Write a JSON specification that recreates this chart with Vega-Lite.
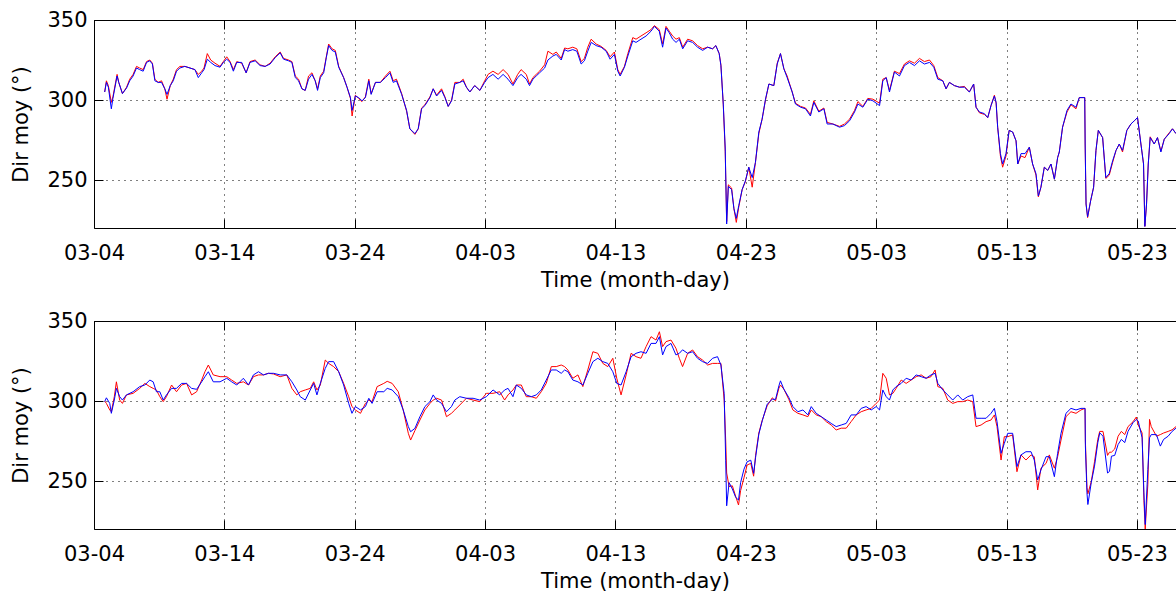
{
  "$schema": "https://vega.github.io/schema/vega-lite/v6.json",
  "padding": {"left": 10, "top": 9, "right": 0, "bottom": 0},
  "autosize": {"type": "pad"},
  "spacing": 20,
  "config": {
    "font": "DejaVu Sans",
    "view": {"stroke": null},
    "axis": {
      "labelFont": "DejaVu Sans", "labelFontSize": 21, "labelColor": "#000000",
      "titleFont": "DejaVu Sans", "titleFontSize": 21, "titleFontWeight": "normal", "titleColor": "#000000",
      "domain": true, "domainColor": "#000000", "domainWidth": 1,
      "tickColor": "#000000", "tickSize": -9, "tickWidth": 1,
      "gridColor": "#000000", "gridDash": [1, 5], "gridWidth": 1, "gridOpacity": 1
    },
    "line": {"strokeWidth": 1, "clip": true}
  },
  "datasets": {
    "dirmoy": [
      {"p":"a","t":"2010-03-04T19:40","red":305,"blue":305},
      {"p":"a","t":"2010-03-04T22:50","red":312,"blue":311},
      {"p":"a","t":"2010-03-05T02:25","red":309,"blue":308},
      {"p":"a","t":"2010-03-05T07:55","red":298.5,"blue":294.5},
      {"p":"a","t":"2010-03-05T10:50","red":302,"blue":301},
      {"p":"a","t":"2010-03-05T18:30","red":316,"blue":315},
      {"p":"a","t":"2010-03-05T21:35","red":311,"blue":311},
      {"p":"a","t":"2010-03-06T04:20","red":304,"blue":304},
      {"p":"a","t":"2010-03-06T12:00","red":308,"blue":307.5},
      {"p":"a","t":"2010-03-06T17:45","red":313,"blue":312},
      {"p":"a","t":"2010-03-07T00:00","red":316,"blue":315},
      {"p":"a","t":"2010-03-07T06:15","red":321,"blue":320},
      {"p":"a","t":"2010-03-07T12:00","red":320,"blue":319},
      {"p":"a","t":"2010-03-07T18:30","red":319,"blue":318},
      {"p":"a","t":"2010-03-08T00:45","red":324,"blue":323.5},
      {"p":"a","t":"2010-03-08T06:45","red":325,"blue":324.5},
      {"p":"a","t":"2010-03-08T11:30","red":323,"blue":322.5},
      {"p":"a","t":"2010-03-08T16:05","red":313,"blue":312},
      {"p":"a","t":"2010-03-08T22:05","red":311,"blue":311},
      {"p":"a","t":"2010-03-09T04:20","red":312,"blue":311},
      {"p":"a","t":"2010-03-09T10:20","red":307,"blue":307},
      {"p":"a","t":"2010-03-09T14:25","red":300.5,"blue":303.5},
      {"p":"a","t":"2010-03-09T20:25","red":309,"blue":309},
      {"p":"a","t":"2010-03-10T01:55","red":313,"blue":312},
      {"p":"a","t":"2010-03-10T07:55","red":319,"blue":318},
      {"p":"a","t":"2010-03-10T14:10","red":321,"blue":320},
      {"p":"a","t":"2010-03-10T23:15","red":321,"blue":321},
      {"p":"a","t":"2010-03-11T08:40","red":320,"blue":320},
      {"p":"a","t":"2010-03-11T17:45","red":319,"blue":319},
      {"p":"a","t":"2010-03-12T00:00","red":316,"blue":314},
      {"p":"a","t":"2010-03-12T06:15","red":318,"blue":317},
      {"p":"a","t":"2010-03-12T10:35","red":320,"blue":319},
      {"p":"a","t":"2010-03-12T16:35","red":329,"blue":325.5},
      {"p":"a","t":"2010-03-12T22:50","red":325,"blue":323.5},
      {"p":"a","t":"2010-03-13T06:45","red":323,"blue":321.5},
      {"p":"a","t":"2010-03-13T16:05","red":321,"blue":320.5},
      {"p":"a","t":"2010-03-13T22:05","red":324,"blue":323.5},
      {"p":"a","t":"2010-03-14T04:20","red":327,"blue":325.5},
      {"p":"a","t":"2010-03-14T10:35","red":324,"blue":323.5},
      {"p":"a","t":"2010-03-14T16:35","red":319,"blue":318},
      {"p":"a","t":"2010-03-14T22:50","red":324,"blue":323.5},
      {"p":"a","t":"2010-03-15T07:55","red":323,"blue":323.5},
      {"p":"a","t":"2010-03-15T16:05","red":317,"blue":317},
      {"p":"a","t":"2010-03-15T23:15","red":324,"blue":323.5},
      {"p":"a","t":"2010-03-16T08:40","red":325,"blue":324.5},
      {"p":"a","t":"2010-03-16T17:45","red":322,"blue":321.5},
      {"p":"a","t":"2010-03-17T03:05","red":321,"blue":321},
      {"p":"a","t":"2010-03-17T12:15","red":323,"blue":322.5},
      {"p":"a","t":"2010-03-17T21:35","red":327,"blue":326.5},
      {"p":"a","t":"2010-03-18T06:45","red":330,"blue":329.5},
      {"p":"a","t":"2010-03-18T12:55","red":326,"blue":325.5},
      {"p":"a","t":"2010-03-18T22:05","red":325,"blue":324.5},
      {"p":"a","t":"2010-03-19T04:20","red":324,"blue":323.5},
      {"p":"a","t":"2010-03-19T10:35","red":315,"blue":314},
      {"p":"a","t":"2010-03-19T16:35","red":313,"blue":312},
      {"p":"a","t":"2010-03-19T22:50","red":307,"blue":307},
      {"p":"a","t":"2010-03-20T04:50","red":306,"blue":306},
      {"p":"a","t":"2010-03-20T11:00","red":315,"blue":313},
      {"p":"a","t":"2010-03-20T17:15","red":317,"blue":316},
      {"p":"a","t":"2010-03-20T23:15","red":312,"blue":312},
      {"p":"a","t":"2010-03-21T03:35","red":307,"blue":306},
      {"p":"a","t":"2010-03-21T08:40","red":315,"blue":314},
      {"p":"a","t":"2010-03-21T14:50","red":318,"blue":317},
      {"p":"a","t":"2010-03-21T19:40","red":327,"blue":326.5},
      {"p":"a","t":"2010-03-22T00:00","red":335,"blue":334},
      {"p":"a","t":"2010-03-22T06:15","red":332,"blue":331},
      {"p":"a","t":"2010-03-22T12:15","red":331,"blue":330},
      {"p":"a","t":"2010-03-22T18:30","red":321,"blue":320.5},
      {"p":"a","t":"2010-03-23T03:35","red":314,"blue":314},
      {"p":"a","t":"2010-03-23T09:50","red":308,"blue":308},
      {"p":"a","t":"2010-03-23T16:05","red":301,"blue":301.5},
      {"p":"a","t":"2010-03-23T19:10","red":290,"blue":293.5},
      {"p":"a","t":"2010-03-24T01:10","red":303,"blue":302.5},
      {"p":"a","t":"2010-03-24T07:10","red":301,"blue":301.5},
      {"p":"a","t":"2010-03-24T13:25","red":299,"blue":299.5},
      {"p":"a","t":"2010-03-24T19:40","red":302,"blue":301.5},
      {"p":"a","t":"2010-03-25T01:55","red":313,"blue":312},
      {"p":"a","t":"2010-03-25T06:15","red":304,"blue":303.5},
      {"p":"a","t":"2010-03-25T14:10","red":311,"blue":311},
      {"p":"a","t":"2010-03-25T23:15","red":311,"blue":311},
      {"p":"a","t":"2010-03-26T08:40","red":315,"blue":314},
      {"p":"a","t":"2010-03-26T16:50","red":318,"blue":317},
      {"p":"a","t":"2010-03-26T22:50","red":312,"blue":311},
      {"p":"a","t":"2010-03-27T04:50","red":313,"blue":312},
      {"p":"a","t":"2010-03-27T14:25","red":304,"blue":303.5},
      {"p":"a","t":"2010-03-27T23:30","red":293,"blue":293.5},
      {"p":"a","t":"2010-03-28T05:30","red":282,"blue":282},
      {"p":"a","t":"2010-03-28T14:50","red":278.5,"blue":279},
      {"p":"a","t":"2010-03-28T20:55","red":282,"blue":282},
      {"p":"a","t":"2010-03-29T03:05","red":295,"blue":294.5},
      {"p":"a","t":"2010-03-29T09:10","red":297,"blue":296.5},
      {"p":"a","t":"2010-03-29T18:30","red":302,"blue":301.5},
      {"p":"a","t":"2010-03-30T00:30","red":307,"blue":307},
      {"p":"a","t":"2010-03-30T06:45","red":303,"blue":302.5},
      {"p":"a","t":"2010-03-30T15:50","red":307,"blue":306},
      {"p":"a","t":"2010-03-30T22:05","red":302,"blue":301.5},
      {"p":"a","t":"2010-03-31T04:05","red":296,"blue":296},
      {"p":"a","t":"2010-03-31T10:20","red":300,"blue":299.5},
      {"p":"a","t":"2010-03-31T16:20","red":311,"blue":310},
      {"p":"a","t":"2010-04-01T01:25","red":311,"blue":311},
      {"p":"a","t":"2010-04-01T07:40","red":313,"blue":312},
      {"p":"a","t":"2010-04-01T13:40","red":308,"blue":308},
      {"p":"a","t":"2010-04-01T19:55","red":305,"blue":305},
      {"p":"a","t":"2010-04-02T04:50","red":309,"blue":309},
      {"p":"a","t":"2010-04-02T14:25","red":306,"blue":306},
      {"p":"a","t":"2010-04-02T23:15","red":312,"blue":311},
      {"p":"a","t":"2010-04-03T05:30","red":316,"blue":314},
      {"p":"a","t":"2010-04-03T14:25","red":318,"blue":316},
      {"p":"a","t":"2010-04-04T00:00","red":316,"blue":313},
      {"p":"a","t":"2010-04-04T09:10","red":319,"blue":316},
      {"p":"a","t":"2010-04-04T18:15","red":316,"blue":313},
      {"p":"a","t":"2010-04-05T03:20","red":310,"blue":309},
      {"p":"a","t":"2010-04-05T12:00","red":316,"blue":314},
      {"p":"a","t":"2010-04-05T18:15","red":319,"blue":316},
      {"p":"a","t":"2010-04-06T03:50","red":316,"blue":313},
      {"p":"a","t":"2010-04-06T09:50","red":310,"blue":309},
      {"p":"a","t":"2010-04-06T16:05","red":314,"blue":313},
      {"p":"a","t":"2010-04-06T22:05","red":316,"blue":315},
      {"p":"a","t":"2010-04-07T04:20","red":318,"blue":317},
      {"p":"a","t":"2010-04-07T13:40","red":322,"blue":320},
      {"p":"a","t":"2010-04-07T19:40","red":330.5,"blue":325},
      {"p":"a","t":"2010-04-08T04:50","red":328.5,"blue":327.5},
      {"p":"a","t":"2010-04-08T11:00","red":330,"blue":328.5},
      {"p":"a","t":"2010-04-08T20:10","red":326,"blue":325},
      {"p":"a","t":"2010-04-09T02:25","red":332.5,"blue":331.5},
      {"p":"a","t":"2010-04-09T08:25","red":332,"blue":330.5},
      {"p":"a","t":"2010-04-09T17:30","red":333,"blue":331.5},
      {"p":"a","t":"2010-04-10T00:55","red":332,"blue":330.5},
      {"p":"a","t":"2010-04-10T08:55","red":324,"blue":322.5},
      {"p":"a","t":"2010-04-10T14:50","red":326,"blue":324.5},
      {"p":"a","t":"2010-04-10T21:05","red":333,"blue":330.5},
      {"p":"a","t":"2010-04-11T03:20","red":338,"blue":336},
      {"p":"a","t":"2010-04-11T12:30","red":335,"blue":334},
      {"p":"a","t":"2010-04-11T21:35","red":333.5,"blue":333},
      {"p":"a","t":"2010-04-12T06:55","red":331,"blue":330.5},
      {"p":"a","t":"2010-04-12T14:10","red":327,"blue":325.5},
      {"p":"a","t":"2010-04-12T22:05","red":330,"blue":328.5},
      {"p":"a","t":"2010-04-13T04:20","red":319,"blue":318},
      {"p":"a","t":"2010-04-13T08:40","red":316,"blue":315},
      {"p":"a","t":"2010-04-13T16:35","red":321,"blue":320.5},
      {"p":"a","t":"2010-04-13T22:50","red":329,"blue":327.5},
      {"p":"a","t":"2010-04-14T07:55","red":339,"blue":337},
      {"p":"a","t":"2010-04-14T13:55","red":338,"blue":336},
      {"p":"a","t":"2010-04-14T23:00","red":340,"blue":338},
      {"p":"a","t":"2010-04-15T08:25","red":342,"blue":340},
      {"p":"a","t":"2010-04-15T17:30","red":344,"blue":343},
      {"p":"a","t":"2010-04-15T23:45","red":346.5,"blue":346},
      {"p":"a","t":"2010-04-16T08:40","red":344,"blue":343},
      {"p":"a","t":"2010-04-16T14:50","red":335,"blue":333},
      {"p":"a","t":"2010-04-16T21:05","red":346,"blue":345},
      {"p":"a","t":"2010-04-17T03:05","red":343,"blue":342},
      {"p":"a","t":"2010-04-17T09:20","red":340,"blue":338},
      {"p":"a","t":"2010-04-17T15:35","red":338,"blue":336},
      {"p":"a","t":"2010-04-17T21:35","red":339,"blue":338},
      {"p":"a","t":"2010-04-18T03:50","red":333,"blue":332},
      {"p":"a","t":"2010-04-18T12:55","red":338,"blue":337},
      {"p":"a","t":"2010-04-18T22:05","red":337,"blue":336},
      {"p":"a","t":"2010-04-19T07:10","red":334,"blue":333},
      {"p":"a","t":"2010-04-19T16:35","red":332,"blue":331},
      {"p":"a","t":"2010-04-20T01:40","red":333,"blue":333},
      {"p":"a","t":"2010-04-20T10:50","red":332,"blue":332},
      {"p":"a","t":"2010-04-20T16:50","red":334,"blue":334},
      {"p":"a","t":"2010-04-20T23:00","red":329,"blue":329},
      {"p":"a","t":"2010-04-21T02:10","red":322,"blue":321.5},
      {"p":"a","t":"2010-04-21T06:30","red":297,"blue":297.5},
      {"p":"a","t":"2010-04-21T10:05","red":268,"blue":270},
      {"p":"a","t":"2010-04-21T12:45","red":224,"blue":222.5},
      {"p":"a","t":"2010-04-21T15:50","red":247,"blue":246},
      {"p":"a","t":"2010-04-21T21:50","red":245,"blue":244},
      {"p":"a","t":"2010-04-22T02:10","red":232,"blue":232},
      {"p":"a","t":"2010-04-22T06:30","red":223.5,"blue":226},
      {"p":"a","t":"2010-04-22T11:00","red":233,"blue":234},
      {"p":"a","t":"2010-04-22T17:15","red":244,"blue":244},
      {"p":"a","t":"2010-04-22T23:15","red":249,"blue":249.5},
      {"p":"a","t":"2010-04-23T05:30","red":258,"blue":258},
      {"p":"a","t":"2010-04-23T11:45","red":245.5,"blue":251.5},
      {"p":"a","t":"2010-04-23T17:45","red":261,"blue":261},
      {"p":"a","t":"2010-04-24T00:00","red":279,"blue":280},
      {"p":"a","t":"2010-04-24T06:00","red":288,"blue":288},
      {"p":"a","t":"2010-04-24T12:15","red":300,"blue":300.5},
      {"p":"a","t":"2010-04-24T18:30","red":310,"blue":310},
      {"p":"a","t":"2010-04-25T03:35","red":309,"blue":309},
      {"p":"a","t":"2010-04-25T09:50","red":323,"blue":322.5},
      {"p":"a","t":"2010-04-25T15:50","red":329,"blue":329},
      {"p":"a","t":"2010-04-25T22:05","red":319.5,"blue":319.5},
      {"p":"a","t":"2010-04-26T04:05","red":315,"blue":314},
      {"p":"a","t":"2010-04-26T13:25","red":305,"blue":305},
      {"p":"a","t":"2010-04-26T19:25","red":298,"blue":297.5},
      {"p":"a","t":"2010-04-27T04:50","red":296,"blue":295.5},
      {"p":"a","t":"2010-04-27T13:55","red":295,"blue":294.5},
      {"p":"a","t":"2010-04-27T23:00","red":291,"blue":290},
      {"p":"a","t":"2010-04-28T05:15","red":299.5,"blue":298.5},
      {"p":"a","t":"2010-04-28T14:25","red":293,"blue":292.5},
      {"p":"a","t":"2010-04-28T23:45","red":295,"blue":294.5},
      {"p":"a","t":"2010-04-29T05:45","red":286,"blue":285},
      {"p":"a","t":"2010-04-29T16:20","red":285,"blue":285},
      {"p":"a","t":"2010-04-30T04:35","red":283.5,"blue":283},
      {"p":"a","t":"2010-04-30T13:40","red":285,"blue":284},
      {"p":"a","t":"2010-04-30T23:00","red":288,"blue":287},
      {"p":"a","t":"2010-05-01T08:10","red":293.5,"blue":292.5},
      {"p":"a","t":"2010-05-01T14:25","red":299,"blue":297.5},
      {"p":"a","t":"2010-05-01T23:30","red":296,"blue":295.5},
      {"p":"a","t":"2010-05-02T08:40","red":301,"blue":300.5},
      {"p":"a","t":"2010-05-02T18:00","red":300.5,"blue":299.5},
      {"p":"a","t":"2010-05-03T06:15","red":298,"blue":296.5},
      {"p":"a","t":"2010-05-03T12:15","red":313,"blue":312},
      {"p":"a","t":"2010-05-03T18:30","red":314,"blue":314},
      {"p":"a","t":"2010-05-04T00:30","red":306,"blue":305},
      {"p":"a","t":"2010-05-04T09:35","red":318,"blue":317.5},
      {"p":"a","t":"2010-05-04T18:55","red":316.5,"blue":315},
      {"p":"a","t":"2010-05-05T04:05","red":322.5,"blue":321.5},
      {"p":"a","t":"2010-05-05T13:10","red":324.5,"blue":323.5},
      {"p":"a","t":"2010-05-05T22:35","red":323,"blue":321.5},
      {"p":"a","t":"2010-05-06T07:40","red":326,"blue":324.5},
      {"p":"a","t":"2010-05-06T16:50","red":324,"blue":322.5},
      {"p":"a","t":"2010-05-07T02:10","red":325,"blue":323.5},
      {"p":"a","t":"2010-05-07T10:05","red":321.5,"blue":320.5},
      {"p":"a","t":"2010-05-07T17:30","red":314,"blue":313},
      {"p":"a","t":"2010-05-08T02:40","red":312,"blue":312},
      {"p":"a","t":"2010-05-08T08:40","red":307,"blue":307},
      {"p":"a","t":"2010-05-08T14:50","red":311,"blue":311},
      {"p":"a","t":"2010-05-09T00:00","red":309,"blue":309},
      {"p":"a","t":"2010-05-09T09:20","red":308,"blue":308},
      {"p":"a","t":"2010-05-09T18:30","red":308.5,"blue":308},
      {"p":"a","t":"2010-05-10T03:35","red":305,"blue":305},
      {"p":"a","t":"2010-05-10T11:30","red":310,"blue":310},
      {"p":"a","t":"2010-05-10T15:50","red":295.5,"blue":295.5},
      {"p":"a","t":"2010-05-10T22:05","red":292,"blue":292.5},
      {"p":"a","t":"2010-05-11T07:10","red":291,"blue":291.5},
      {"p":"a","t":"2010-05-11T13:25","red":289,"blue":289},
      {"p":"a","t":"2010-05-11T19:25","red":296.5,"blue":296.5},
      {"p":"a","t":"2010-05-12T01:40","red":303,"blue":302.5},
      {"p":"a","t":"2010-05-12T04:50","red":298,"blue":298.5},
      {"p":"a","t":"2010-05-12T07:40","red":283,"blue":283},
      {"p":"a","t":"2010-05-12T12:45","red":265,"blue":266.5},
      {"p":"a","t":"2010-05-12T16:50","red":258,"blue":260},
      {"p":"a","t":"2010-05-12T23:00","red":265,"blue":266.5},
      {"p":"a","t":"2010-05-13T04:50","red":281,"blue":281},
      {"p":"a","t":"2010-05-13T11:15","red":280,"blue":280},
      {"p":"a","t":"2010-05-13T17:30","red":274.5,"blue":274.5},
      {"p":"a","t":"2010-05-13T20:40","red":260,"blue":260},
      {"p":"a","t":"2010-05-14T02:40","red":265,"blue":266.5},
      {"p":"a","t":"2010-05-14T10:05","red":264,"blue":266.5},
      {"p":"a","t":"2010-05-14T18:00","red":270.5,"blue":270.5},
      {"p":"a","t":"2010-05-15T00:00","red":260,"blue":260},
      {"p":"a","t":"2010-05-15T06:15","red":253,"blue":254},
      {"p":"a","t":"2010-05-15T10:35","red":239.5,"blue":240},
      {"p":"a","t":"2010-05-15T15:20","red":245.5,"blue":245.5},
      {"p":"a","t":"2010-05-15T21:35","red":258,"blue":258},
      {"p":"a","t":"2010-05-16T03:50","red":256,"blue":256},
      {"p":"a","t":"2010-05-16T09:50","red":260,"blue":260},
      {"p":"a","t":"2010-05-16T16:05","red":250.5,"blue":250.5},
      {"p":"a","t":"2010-05-16T22:05","red":264,"blue":264},
      {"p":"a","t":"2010-05-17T01:10","red":267.5,"blue":267.5},
      {"p":"a","t":"2010-05-17T07:10","red":283,"blue":283},
      {"p":"a","t":"2010-05-17T15:20","red":292.5,"blue":293.5},
      {"p":"a","t":"2010-05-17T22:35","red":297,"blue":297.5},
      {"p":"a","t":"2010-05-18T07:55","red":294.5,"blue":295.5},
      {"p":"a","t":"2010-05-18T13:55","red":301.5,"blue":301.5},
      {"p":"a","t":"2010-05-19T00:00","red":301.5,"blue":301.5},
      {"p":"a","t":"2010-05-19T00:45","red":272.5,"blue":272.5},
      {"p":"a","t":"2010-05-19T02:25","red":235,"blue":235},
      {"p":"a","t":"2010-05-19T05:15","red":226.5,"blue":227},
      {"p":"a","t":"2010-05-19T10:50","red":237,"blue":237},
      {"p":"a","t":"2010-05-19T16:20","red":245.5,"blue":245.5},
      {"p":"a","t":"2010-05-19T20:40","red":268.5,"blue":268.5},
      {"p":"a","t":"2010-05-20T01:00","red":281,"blue":281},
      {"p":"a","t":"2010-05-20T08:55","red":276.5,"blue":276.5},
      {"p":"a","t":"2010-05-20T14:50","red":251,"blue":251.5},
      {"p":"a","t":"2010-05-20T21:05","red":253,"blue":254},
      {"p":"a","t":"2010-05-21T03:20","red":261,"blue":262},
      {"p":"a","t":"2010-05-21T09:35","red":268.5,"blue":268.5},
      {"p":"a","t":"2010-05-21T15:35","red":272.5,"blue":272.5},
      {"p":"a","t":"2010-05-21T21:35","red":267.5,"blue":268.5},
      {"p":"a","t":"2010-05-22T05:30","red":281,"blue":281},
      {"p":"a","t":"2010-05-22T13:00","red":285,"blue":285},
      {"p":"a","t":"2010-05-22T19:10","red":287,"blue":287},
      {"p":"a","t":"2010-05-23T01:10","red":289,"blue":289},
      {"p":"a","t":"2010-05-23T07:25","red":272.5,"blue":272.5},
      {"p":"a","t":"2010-05-23T12:15","red":260,"blue":260},
      {"p":"a","t":"2010-05-23T14:40","red":221,"blue":221},
      {"p":"a","t":"2010-05-23T17:45","red":235,"blue":235},
      {"p":"a","t":"2010-05-23T20:55","red":260,"blue":260},
      {"p":"a","t":"2010-05-24T00:30","red":277,"blue":276.5},
      {"p":"a","t":"2010-05-24T07:55","red":272.5,"blue":272.5},
      {"p":"a","t":"2010-05-24T13:55","red":276.5,"blue":276.5},
      {"p":"a","t":"2010-05-24T20:10","red":268,"blue":267.5},
      {"p":"a","t":"2010-05-25T02:25","red":275.5,"blue":275.5},
      {"p":"a","t":"2010-05-25T11:30","red":279.5,"blue":279},
      {"p":"a","t":"2010-05-25T17:30","red":282,"blue":282},
      {"p":"a","t":"2010-05-26T00:00","red":279,"blue":279},

      {"p":"b","t":"2010-03-04T19:40","red":300,"blue":299.6},
      {"p":"b","t":"2010-03-04T22:50","red":298.5,"blue":302},
      {"p":"b","t":"2010-03-05T05:00","red":294.4,"blue":298.5},
      {"p":"b","t":"2010-03-05T07:55","red":293.3,"blue":292.3},
      {"p":"b","t":"2010-03-05T13:25","red":302.7,"blue":300.6},
      {"p":"b","t":"2010-03-05T17:15","red":312,"blue":307.9},
      {"p":"b","t":"2010-03-05T23:15","red":300.6,"blue":302.7},
      {"p":"b","t":"2010-03-06T04:20","red":298.5,"blue":300.6},
      {"p":"b","t":"2010-03-06T11:45","red":303.8,"blue":303.8},
      {"p":"b","t":"2010-03-07T00:00","red":304.8,"blue":305.8},
      {"p":"b","t":"2010-03-07T12:15","red":307.9,"blue":309},
      {"p":"b","t":"2010-03-07T21:35","red":311,"blue":310},
      {"p":"b","t":"2010-03-08T06:45","red":309,"blue":313.1},
      {"p":"b","t":"2010-03-08T12:55","red":307.9,"blue":312},
      {"p":"b","t":"2010-03-08T18:55","red":306.9,"blue":305.8},
      {"p":"b","t":"2010-03-09T01:10","red":302.7,"blue":305.8},
      {"p":"b","t":"2010-03-09T07:25","red":299.6,"blue":300.6},
      {"p":"b","t":"2010-03-09T13:25","red":302.7,"blue":303.8},
      {"p":"b","t":"2010-03-09T22:50","red":310,"blue":307.9},
      {"p":"b","t":"2010-03-10T07:55","red":305.8,"blue":307.9},
      {"p":"b","t":"2010-03-10T17:15","red":310,"blue":311},
      {"p":"b","t":"2010-03-11T02:25","red":311,"blue":311},
      {"p":"b","t":"2010-03-11T11:45","red":303.8,"blue":307.9},
      {"p":"b","t":"2010-03-11T20:55","red":305.8,"blue":307.3},
      {"p":"b","t":"2010-03-12T06:15","red":313.1,"blue":312},
      {"p":"b","t":"2010-03-12T12:15","red":318.3,"blue":315.2},
      {"p":"b","t":"2010-03-12T18:30","red":322.5,"blue":318.3},
      {"p":"b","t":"2010-03-13T03:35","red":316.3,"blue":312},
      {"p":"b","t":"2010-03-13T16:05","red":315.2,"blue":312},
      {"p":"b","t":"2010-03-14T04:20","red":315.2,"blue":314.2},
      {"p":"b","t":"2010-03-14T13:25","red":313.1,"blue":312},
      {"p":"b","t":"2010-03-14T22:50","red":311,"blue":310},
      {"p":"b","t":"2010-03-15T11:00","red":312,"blue":314.2},
      {"p":"b","t":"2010-03-15T20:25","red":310,"blue":310},
      {"p":"b","t":"2010-03-16T05:30","red":315.2,"blue":316.3},
      {"p":"b","t":"2010-03-16T14:50","red":316.3,"blue":318.3},
      {"p":"b","t":"2010-03-17T00:00","red":316.3,"blue":316.3},
      {"p":"b","t":"2010-03-17T09:10","red":317.3,"blue":317.3},
      {"p":"b","t":"2010-03-17T18:30","red":316.9,"blue":317.3},
      {"p":"b","t":"2010-03-18T06:45","red":315.2,"blue":316.3},
      {"p":"b","t":"2010-03-18T18:55","red":316.3,"blue":316.3},
      {"p":"b","t":"2010-03-19T04:20","red":307.9,"blue":312},
      {"p":"b","t":"2010-03-19T13:25","red":303.8,"blue":306.9},
      {"p":"b","t":"2010-03-19T19:40","red":305.8,"blue":302.7},
      {"p":"b","t":"2010-03-20T05:00","red":306.9,"blue":300.6},
      {"p":"b","t":"2010-03-20T14:10","red":307.9,"blue":306.9},
      {"p":"b","t":"2010-03-20T20:25","red":312,"blue":311},
      {"p":"b","t":"2010-03-21T02:25","red":306.9,"blue":303.8},
      {"p":"b","t":"2010-03-21T08:40","red":310,"blue":311},
      {"p":"b","t":"2010-03-21T17:45","red":325.6,"blue":320.4},
      {"p":"b","t":"2010-03-22T00:00","red":323.5,"blue":324.6},
      {"p":"b","t":"2010-03-22T09:10","red":321.5,"blue":324.6},
      {"p":"b","t":"2010-03-22T18:30","red":318.3,"blue":318.3},
      {"p":"b","t":"2010-03-23T03:35","red":311,"blue":310},
      {"p":"b","t":"2010-03-23T12:55","red":302.7,"blue":298.5},
      {"p":"b","t":"2010-03-23T18:55","red":296.5,"blue":292.3},
      {"p":"b","t":"2010-03-24T01:10","red":294.4,"blue":296.5},
      {"p":"b","t":"2010-03-24T10:35","red":292.3,"blue":294.4},
      {"p":"b","t":"2010-03-24T19:40","red":298.5,"blue":296.5},
      {"p":"b","t":"2010-03-25T01:55","red":300.6,"blue":301.7},
      {"p":"b","t":"2010-03-25T07:55","red":299.6,"blue":298.5},
      {"p":"b","t":"2010-03-25T17:15","red":309,"blue":305.8},
      {"p":"b","t":"2010-03-26T05:30","red":311,"blue":305.8},
      {"p":"b","t":"2010-03-26T11:45","red":312.3,"blue":307.9},
      {"p":"b","t":"2010-03-26T20:55","red":311,"blue":306.9},
      {"p":"b","t":"2010-03-27T08:10","red":305.8,"blue":302.7},
      {"p":"b","t":"2010-03-27T17:15","red":294.4,"blue":294.4},
      {"p":"b","t":"2010-03-28T02:40","red":279.8,"blue":284},
      {"p":"b","t":"2010-03-28T06:55","red":275.6,"blue":280.8},
      {"p":"b","t":"2010-03-28T14:50","red":281.5,"blue":282.9},
      {"p":"b","t":"2010-03-29T00:00","red":288.1,"blue":290.2},
      {"p":"b","t":"2010-03-29T09:10","red":294.4,"blue":296.5},
      {"p":"b","t":"2010-03-29T18:30","red":298.5,"blue":299.6},
      {"p":"b","t":"2010-03-30T00:30","red":300.6,"blue":303.8},
      {"p":"b","t":"2010-03-30T06:45","red":301.7,"blue":300.6},
      {"p":"b","t":"2010-03-30T15:50","red":300.6,"blue":298.5},
      {"p":"b","t":"2010-03-31T00:55","red":290.2,"blue":293.3},
      {"p":"b","t":"2010-03-31T10:05","red":292.3,"blue":296.5},
      {"p":"b","t":"2010-03-31T16:20","red":294.4,"blue":300.6},
      {"p":"b","t":"2010-04-01T01:25","red":297.5,"blue":302.7},
      {"p":"b","t":"2010-04-01T13:40","red":301.7,"blue":301.7},
      {"p":"b","t":"2010-04-02T01:55","red":300.6,"blue":301.7},
      {"p":"b","t":"2010-04-02T14:10","red":299.6,"blue":300.6},
      {"p":"b","t":"2010-04-03T02:25","red":304.8,"blue":302.7},
      {"p":"b","t":"2010-04-03T14:40","red":304.8,"blue":306.9},
      {"p":"b","t":"2010-04-04T02:55","red":305.8,"blue":303.8},
      {"p":"b","t":"2010-04-04T12:00","red":300.6,"blue":306.9},
      {"p":"b","t":"2010-04-04T18:15","red":303.8,"blue":307.9},
      {"p":"b","t":"2010-04-05T03:20","red":306.9,"blue":302.7},
      {"p":"b","t":"2010-04-05T09:35","red":310,"blue":310},
      {"p":"b","t":"2010-04-05T18:45","red":310,"blue":307.9},
      {"p":"b","t":"2010-04-06T03:50","red":302.7,"blue":303.8},
      {"p":"b","t":"2010-04-06T13:10","red":302.7,"blue":302.7},
      {"p":"b","t":"2010-04-06T22:20","red":301.7,"blue":303.8},
      {"p":"b","t":"2010-04-07T07:25","red":305.8,"blue":306.9},
      {"p":"b","t":"2010-04-07T16:35","red":311,"blue":313.1},
      {"p":"b","t":"2010-04-08T01:55","red":321.5,"blue":319.4},
      {"p":"b","t":"2010-04-08T11:00","red":321.5,"blue":319.4},
      {"p":"b","t":"2010-04-08T20:10","red":322.5,"blue":317.3},
      {"p":"b","t":"2010-04-09T02:25","red":321.5,"blue":319.4},
      {"p":"b","t":"2010-04-09T08:25","red":319.4,"blue":318.3},
      {"p":"b","t":"2010-04-09T17:30","red":314.2,"blue":313.1},
      {"p":"b","t":"2010-04-10T02:55","red":316.3,"blue":312},
      {"p":"b","t":"2010-04-10T12:00","red":309,"blue":310},
      {"p":"b","t":"2010-04-10T21:05","red":319.4,"blue":317.3},
      {"p":"b","t":"2010-04-11T06:30","red":330.8,"blue":324.6},
      {"p":"b","t":"2010-04-11T15:35","red":329.8,"blue":326.7},
      {"p":"b","t":"2010-04-12T00:45","red":323.5,"blue":324.6},
      {"p":"b","t":"2010-04-12T09:50","red":321.5,"blue":323.5},
      {"p":"b","t":"2010-04-12T19:10","red":326.7,"blue":318.3},
      {"p":"b","t":"2010-04-13T02:25","red":314.2,"blue":311},
      {"p":"b","t":"2010-04-13T10:20","red":303.8,"blue":310},
      {"p":"b","t":"2010-04-13T19:40","red":316.3,"blue":318.3},
      {"p":"b","t":"2010-04-14T04:50","red":329.8,"blue":327.7},
      {"p":"b","t":"2010-04-14T13:55","red":327.7,"blue":329.8},
      {"p":"b","t":"2010-04-14T23:00","red":326.7,"blue":330.8},
      {"p":"b","t":"2010-04-15T08:25","red":334,"blue":329.8},
      {"p":"b","t":"2010-04-15T17:30","red":340.2,"blue":336},
      {"p":"b","t":"2010-04-16T02:40","red":338.1,"blue":336},
      {"p":"b","t":"2010-04-16T08:55","red":343.3,"blue":340.2},
      {"p":"b","t":"2010-04-16T14:50","red":334,"blue":328.8},
      {"p":"b","t":"2010-04-16T21:05","red":337.1,"blue":334},
      {"p":"b","t":"2010-04-17T06:15","red":338.1,"blue":336},
      {"p":"b","t":"2010-04-17T15:20","red":333,"blue":328.8},
      {"p":"b","t":"2010-04-17T21:35","red":326.7,"blue":329.8},
      {"p":"b","t":"2010-04-18T03:35","red":321.5,"blue":332},
      {"p":"b","t":"2010-04-18T12:55","red":329.8,"blue":329.8},
      {"p":"b","t":"2010-04-18T22:05","red":331.9,"blue":330.8},
      {"p":"b","t":"2010-04-19T07:10","red":327.7,"blue":326.7},
      {"p":"b","t":"2010-04-19T16:20","red":325.6,"blue":324.6},
      {"p":"b","t":"2010-04-20T01:40","red":322.5,"blue":323.5},
      {"p":"b","t":"2010-04-20T10:50","red":323.5,"blue":326.7},
      {"p":"b","t":"2010-04-20T19:55","red":323.5,"blue":327.7},
      {"p":"b","t":"2010-04-21T02:10","red":323.5,"blue":322.5},
      {"p":"b","t":"2010-04-21T08:10","red":300.6,"blue":304.8},
      {"p":"b","t":"2010-04-21T11:00","red":275,"blue":262.6},
      {"p":"b","t":"2010-04-21T12:45","red":255,"blue":234.5},
      {"p":"b","t":"2010-04-21T17:15","red":246.5,"blue":249},
      {"p":"b","t":"2010-04-21T23:15","red":247,"blue":245},
      {"p":"b","t":"2010-04-22T05:30","red":240.2,"blue":239.7},
      {"p":"b","t":"2010-04-22T10:35","red":235,"blue":238.1},
      {"p":"b","t":"2010-04-22T14:25","red":244,"blue":249},
      {"p":"b","t":"2010-04-22T20:40","red":252,"blue":257.4},
      {"p":"b","t":"2010-04-23T02:25","red":260,"blue":262},
      {"p":"b","t":"2010-04-23T09:10","red":261,"blue":263},
      {"p":"b","t":"2010-04-23T14:25","red":253,"blue":254.8},
      {"p":"b","t":"2010-04-23T18:00","red":266,"blue":264.7},
      {"p":"b","t":"2010-04-24T00:00","red":280,"blue":279.3},
      {"p":"b","t":"2010-04-24T06:15","red":288,"blue":287.6},
      {"p":"b","t":"2010-04-24T15:20","red":297,"blue":298},
      {"p":"b","t":"2010-04-25T00:45","red":302,"blue":301.1},
      {"p":"b","t":"2010-04-25T06:45","red":300,"blue":301},
      {"p":"b","t":"2010-04-25T12:55","red":308,"blue":309.5},
      {"p":"b","t":"2010-04-25T15:50","red":310,"blue":312.6},
      {"p":"b","t":"2010-04-25T22:05","red":307.4,"blue":307.4},
      {"p":"b","t":"2010-04-26T07:10","red":301,"blue":302.2},
      {"p":"b","t":"2010-04-26T14:40","red":294.4,"blue":296.5},
      {"p":"b","t":"2010-04-27T00:00","red":292.3,"blue":293.3},
      {"p":"b","t":"2010-04-27T09:10","red":291.3,"blue":294.4},
      {"p":"b","t":"2010-04-27T18:15","red":290.2,"blue":291.3},
      {"p":"b","t":"2010-04-28T00:30","red":294.4,"blue":296.5},
      {"p":"b","t":"2010-04-28T09:35","red":291.3,"blue":292.3},
      {"p":"b","t":"2010-04-28T18:55","red":290.2,"blue":290.2},
      {"p":"b","t":"2010-04-29T04:05","red":287.1,"blue":288.1},
      {"p":"b","t":"2010-04-29T13:10","red":285,"blue":286},
      {"p":"b","t":"2010-04-29T22:20","red":281.9,"blue":284},
      {"p":"b","t":"2010-04-30T07:40","red":283,"blue":285},
      {"p":"b","t":"2010-04-30T16:50","red":283,"blue":286},
      {"p":"b","t":"2010-05-01T01:55","red":287.1,"blue":291.3},
      {"p":"b","t":"2010-05-01T11:15","red":291.3,"blue":291.3},
      {"p":"b","t":"2010-05-01T20:25","red":293.3,"blue":295.4},
      {"p":"b","t":"2010-05-02T05:30","red":294.4,"blue":296.5},
      {"p":"b","t":"2010-05-02T14:50","red":295.4,"blue":294.4},
      {"p":"b","t":"2010-05-03T00:00","red":298.5,"blue":296.5},
      {"p":"b","t":"2010-05-03T06:15","red":300.6,"blue":294.4},
      {"p":"b","t":"2010-05-03T12:15","red":317.3,"blue":306.9},
      {"p":"b","t":"2010-05-03T18:30","red":314.2,"blue":302.7},
      {"p":"b","t":"2010-05-04T00:30","red":303.8,"blue":300.6},
      {"p":"b","t":"2010-05-04T06:45","red":304.8,"blue":306.9},
      {"p":"b","t":"2010-05-04T12:45","red":307.9,"blue":309},
      {"p":"b","t":"2010-05-04T22:05","red":313.1,"blue":311},
      {"p":"b","t":"2010-05-05T07:10","red":311,"blue":314.2},
      {"p":"b","t":"2010-05-05T16:20","red":313.1,"blue":313.1},
      {"p":"b","t":"2010-05-06T01:40","red":315.2,"blue":316.3},
      {"p":"b","t":"2010-05-06T10:50","red":316.3,"blue":315.2},
      {"p":"b","t":"2010-05-06T19:55","red":314.2,"blue":314.2},
      {"p":"b","t":"2010-05-07T05:00","red":315.2,"blue":316.3},
      {"p":"b","t":"2010-05-07T12:30","red":319.4,"blue":317.3},
      {"p":"b","t":"2010-05-07T17:30","red":309,"blue":311},
      {"p":"b","t":"2010-05-08T02:40","red":307.9,"blue":306.9},
      {"p":"b","t":"2010-05-08T11:45","red":300.6,"blue":303.8},
      {"p":"b","t":"2010-05-08T20:55","red":298.5,"blue":300.6},
      {"p":"b","t":"2010-05-09T06:15","red":299.6,"blue":303.8},
      {"p":"b","t":"2010-05-09T15:20","red":299.6,"blue":300.6},
      {"p":"b","t":"2010-05-10T00:30","red":300.6,"blue":302.7},
      {"p":"b","t":"2010-05-10T09:50","red":299.6,"blue":303.8},
      {"p":"b","t":"2010-05-10T15:50","red":284,"blue":289.2},
      {"p":"b","t":"2010-05-11T01:10","red":285,"blue":289.2},
      {"p":"b","t":"2010-05-11T10:20","red":287.1,"blue":289.2},
      {"p":"b","t":"2010-05-11T19:25","red":288.1,"blue":292.3},
      {"p":"b","t":"2010-05-12T01:40","red":291.3,"blue":295.4},
      {"p":"b","t":"2010-05-12T06:30","red":284,"blue":287.1},
      {"p":"b","t":"2010-05-12T13:55","red":263.1,"blue":267.3},
      {"p":"b","t":"2010-05-12T19:55","red":277.7,"blue":273.5},
      {"p":"b","t":"2010-05-13T02:10","red":277.7,"blue":279.8},
      {"p":"b","t":"2010-05-13T11:15","red":278.8,"blue":279.8},
      {"p":"b","t":"2010-05-13T19:10","red":255.8,"blue":259},
      {"p":"b","t":"2010-05-14T02:40","red":266.3,"blue":266.3},
      {"p":"b","t":"2010-05-14T11:45","red":263.1,"blue":268.3},
      {"p":"b","t":"2010-05-14T21:05","red":266.3,"blue":268.3},
      {"p":"b","t":"2010-05-15T03:05","red":265.2,"blue":263.1},
      {"p":"b","t":"2010-05-15T09:20","red":244.4,"blue":250.6},
      {"p":"b","t":"2010-05-15T15:20","red":258,"blue":256.9},
      {"p":"b","t":"2010-05-16T00:45","red":261,"blue":265.2},
      {"p":"b","t":"2010-05-16T06:45","red":266.3,"blue":265.2},
      {"p":"b","t":"2010-05-16T16:05","red":258,"blue":252.7},
      {"p":"b","t":"2010-05-16T22:05","red":265.2,"blue":267.3},
      {"p":"b","t":"2010-05-17T04:20","red":275.6,"blue":279.8},
      {"p":"b","t":"2010-05-17T13:25","red":290.2,"blue":292.3},
      {"p":"b","t":"2010-05-17T22:35","red":293.3,"blue":295.4},
      {"p":"b","t":"2010-05-18T07:55","red":292.3,"blue":294.4},
      {"p":"b","t":"2010-05-18T17:00","red":294.4,"blue":295.4},
      {"p":"b","t":"2010-05-19T00:30","red":295.4,"blue":295.4},
      {"p":"b","t":"2010-05-19T01:10","red":275,"blue":272},
      {"p":"b","t":"2010-05-19T04:05","red":246,"blue":242.6},
      {"p":"b","t":"2010-05-19T05:45","red":242,"blue":235.3},
      {"p":"b","t":"2010-05-19T12:00","red":249.6,"blue":249},
      {"p":"b","t":"2010-05-19T18:00","red":262,"blue":259.3},
      {"p":"b","t":"2010-05-20T00:00","red":276,"blue":273.9},
      {"p":"b","t":"2010-05-20T03:35","red":281,"blue":280.1},
      {"p":"b","t":"2010-05-20T09:35","red":281,"blue":278},
      {"p":"b","t":"2010-05-20T18:00","red":266,"blue":255},
      {"p":"b","t":"2010-05-20T21:35","red":268,"blue":256},
      {"p":"b","t":"2010-05-21T01:10","red":268,"blue":265.5},
      {"p":"b","t":"2010-05-21T07:10","red":270,"blue":266},
      {"p":"b","t":"2010-05-21T13:25","red":278,"blue":272.8},
      {"p":"b","t":"2010-05-21T19:25","red":281,"blue":276},
      {"p":"b","t":"2010-05-22T01:40","red":279,"blue":274},
      {"p":"b","t":"2010-05-22T07:40","red":284,"blue":281},
      {"p":"b","t":"2010-05-22T16:50","red":287,"blue":286.4},
      {"p":"b","t":"2010-05-22T23:00","red":290,"blue":288.5},
      {"p":"b","t":"2010-05-23T02:25","red":285,"blue":287.5},
      {"p":"b","t":"2010-05-23T09:35","red":280,"blue":277},
      {"p":"b","t":"2010-05-23T12:55","red":238,"blue":242.6},
      {"p":"b","t":"2010-05-23T15:20","red":220,"blue":222.8},
      {"p":"b","t":"2010-05-23T20:10","red":248,"blue":257.2},
      {"p":"b","t":"2010-05-23T23:15","red":288.5,"blue":277},
      {"p":"b","t":"2010-05-24T02:25","red":284,"blue":279},
      {"p":"b","t":"2010-05-24T12:00","red":278,"blue":279},
      {"p":"b","t":"2010-05-24T19:10","red":279,"blue":271.8},
      {"p":"b","t":"2010-05-25T01:10","red":280,"blue":276},
      {"p":"b","t":"2010-05-25T09:35","red":281,"blue":278},
      {"p":"b","t":"2010-05-25T16:50","red":282,"blue":281},
      {"p":"b","t":"2010-05-26T00:00","red":284,"blue":283}
    ]
  },
  "data": {"name": "dirmoy"},
  "vconcat": [
    {
      "width": 1082,
      "height": 208,
      "transform": [{"filter": "datum.p == 'a'"}],
      "layer": [
        {
          "mark": {"type": "line", "color": "#ff0000"},
          "encoding": {
            "x": {
              "field": "t", "type": "temporal",
              "scale": {"domain": [{"year": 2010, "month": "mar", "date": 4}, {"year": 2010, "month": "may", "date": 26}]},
              "axis": {
                "orient": "bottom", "format": "%m-%d", "title": "Time (month-day)",
                "values": [
                  {"year": 2010, "month": "mar", "date": 4}, {"year": 2010, "month": "mar", "date": 14},
                  {"year": 2010, "month": "mar", "date": 24}, {"year": 2010, "month": "apr", "date": 3},
                  {"year": 2010, "month": "apr", "date": 13}, {"year": 2010, "month": "apr", "date": 23},
                  {"year": 2010, "month": "may", "date": 3}, {"year": 2010, "month": "may", "date": 13},
                  {"year": 2010, "month": "may", "date": 23}
                ],
                "grid": true, "labelPadding": 23, "titlePadding": 6, "labelFlush": false, "labelOverlap": false
              }
            },
            "y": {
              "field": "red", "type": "quantitative",
              "scale": {"domain": [220, 350]},
              "axis": {"orient": "left", "values": [250, 300, 350], "title": "Dir moy (°)", "grid": true, "labelPadding": 16, "titlePadding": 15}
            }
          }
        },
        {
          "mark": {"type": "line", "color": "#0000ff"},
          "encoding": {
            "x": {
              "field": "t", "type": "temporal",
              "axis": {
                "orient": "top", "labels": false, "title": null, "grid": false,
                "values": [
                  {"year": 2010, "month": "mar", "date": 4}, {"year": 2010, "month": "mar", "date": 14},
                  {"year": 2010, "month": "mar", "date": 24}, {"year": 2010, "month": "apr", "date": 3},
                  {"year": 2010, "month": "apr", "date": 13}, {"year": 2010, "month": "apr", "date": 23},
                  {"year": 2010, "month": "may", "date": 3}, {"year": 2010, "month": "may", "date": 13},
                  {"year": 2010, "month": "may", "date": 23}
                ]
              }
            },
            "y": {
              "field": "blue", "type": "quantitative",
              "axis": {"orient": "right", "values": [250, 300, 350], "labels": false, "title": null, "grid": false, "domain": false}
            }
          }
        }
      ],
      "resolve": {"axis": {"x": "independent", "y": "independent"}}
    },
    {
      "width": 1082,
      "height": 208,
      "transform": [{"filter": "datum.p == 'b'"}],
      "layer": [
        {
          "mark": {"type": "line", "color": "#ff0000"},
          "encoding": {
            "x": {
              "field": "t", "type": "temporal",
              "scale": {"domain": [{"year": 2010, "month": "mar", "date": 4}, {"year": 2010, "month": "may", "date": 26}]},
              "axis": {
                "orient": "bottom", "format": "%m-%d", "title": "Time (month-day)",
                "values": [
                  {"year": 2010, "month": "mar", "date": 4}, {"year": 2010, "month": "mar", "date": 14},
                  {"year": 2010, "month": "mar", "date": 24}, {"year": 2010, "month": "apr", "date": 3},
                  {"year": 2010, "month": "apr", "date": 13}, {"year": 2010, "month": "apr", "date": 23},
                  {"year": 2010, "month": "may", "date": 3}, {"year": 2010, "month": "may", "date": 13},
                  {"year": 2010, "month": "may", "date": 23}
                ],
                "grid": true, "labelPadding": 23, "titlePadding": 6, "labelFlush": false, "labelOverlap": false
              }
            },
            "y": {
              "field": "red", "type": "quantitative",
              "scale": {"domain": [220, 350]},
              "axis": {"orient": "left", "values": [250, 300, 350], "title": "Dir moy (°)", "grid": true, "labelPadding": 16, "titlePadding": 15}
            }
          }
        },
        {
          "mark": {"type": "line", "color": "#0000ff"},
          "encoding": {
            "x": {
              "field": "t", "type": "temporal",
              "axis": {
                "orient": "top", "labels": false, "title": null, "grid": false,
                "values": [
                  {"year": 2010, "month": "mar", "date": 4}, {"year": 2010, "month": "mar", "date": 14},
                  {"year": 2010, "month": "mar", "date": 24}, {"year": 2010, "month": "apr", "date": 3},
                  {"year": 2010, "month": "apr", "date": 13}, {"year": 2010, "month": "apr", "date": 23},
                  {"year": 2010, "month": "may", "date": 3}, {"year": 2010, "month": "may", "date": 13},
                  {"year": 2010, "month": "may", "date": 23}
                ]
              }
            },
            "y": {
              "field": "blue", "type": "quantitative",
              "axis": {"orient": "right", "values": [250, 300, 350], "labels": false, "title": null, "grid": false, "domain": false}
            }
          }
        }
      ],
      "resolve": {"axis": {"x": "independent", "y": "independent"}}
    }
  ]
}
